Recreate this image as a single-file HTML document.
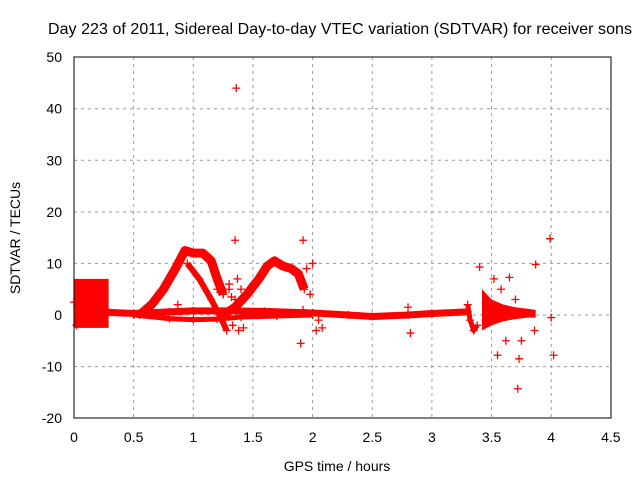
<!DOCTYPE html>
<html><head><meta charset="utf-8"><style>
body{margin:0;background:#fff}
svg{display:block;font-family:"Liberation Sans",sans-serif}
</style></head><body>
<svg id="chart" width="640" height="480">
<text x="340" y="34" text-anchor="middle" font-size="16" textLength="584">Day 223 of 2011, Sidereal Day-to-day VTEC variation (SDTVAR) for receiver sons</text>
<text x="337" y="471" text-anchor="middle" font-size="14">GPS time / hours</text>
<text x="20" y="238" text-anchor="middle" font-size="14" transform="rotate(-90 20 238)">SDTVAR / TECUs</text>
<g id="grid"></g><g id="marks"></g><g id="axes"></g>
</svg>
<script>
const xTicks=[0,0.5,1,1.5,2,2.5,3,3.5,4,4.5];
const xTickLabels=["0","0.5","1","1.5","2","2.5","3","3.5","4","4.5"];
const yTicks=[-20,-10,0,10,20,30,40,50];
const yTickLabels=["-20","-10","0","10","20","30","40","50"];
// dense block near start
const blockX=[0,0.29];
const blockY=[-2.5,7];
// baseline band
const baseX=[0.29,0.5,0.8,1.0,1.3,1.6,2.0,2.3,2.5,2.8,3.0,3.3];
const baseY=[0.5,0.3,0.6,0.8,0.8,0.7,0.4,0.0,-0.3,0.0,0.3,0.6];
const lowX=[0.5,0.8,1.0,1.2,1.4,1.7,2.0];
const lowY=[0.0,-0.7,-0.9,-0.8,-0.4,-0.2,0.0];
// first arc
const arc1X=[0.55,0.65,0.75,0.85,0.93,1.0,1.08,1.15,1.2,1.25];
const arc1Y=[0,2,5,9,12.5,12,12,10.5,7,4];
const arc1DownX=[0.95,1.05,1.15,1.22,1.28];
const arc1DownY=[10,7,3,0,-3];
// second arc
const arc2X=[1.25,1.35,1.45,1.55,1.62,1.68,1.75,1.82,1.88,1.93];
const arc2Y=[0,1.5,4,7,9.5,10.5,9.5,9,8,5];
// late cluster
const spikeX=[3.3,3.32,3.35,3.38];
const spikeY=[2,-1,-3,-2];
const fanX=[3.42,3.5,3.6,3.7,3.8,3.87];
const fanTop=[5,3,2,1.5,1.2,1];
const fanBot=[-3,-2,-1.2,-0.8,-0.5,-0.5];
// scattered points
const scatX=[1.36,1.35,1.92,1.37,1.3,1.4,1.45,1.5,1.28,1.33,1.38,1.42,1.9,1.95,2.0,1.98,2.05,1.92,2.03,2.08,1.2,1.25,1.32,0.87,1.3,1.35,2.8,2.82,3.99,3.87,3.4,3.52,3.58,3.65,3.7,3.72,3.62,3.55,3.75,4.0,4.02,3.73,3.86,3.45,0.0,0.02];
const scatY=[44,14.5,14.5,7,6,5,4,6,0,-2,-3,-2.5,-5.5,9,10,4,-1,1,-3,-2.5,5,4,3.5,2,5,3,1.5,-3.5,14.8,9.8,9.3,7,5,7.3,3,-14.3,-5,-7.8,-5,-0.5,-7.8,-8.5,-3,-1,2.5,-2];
const X=h=>74+h*119.3, Y=v=>315-v*5.157;
const NS="http://www.w3.org/2000/svg";
function mk(t,a,p){const e=document.createElementNS(NS,t);for(const k in a)e.setAttribute(k,a[k]);p.appendChild(e);return e;}
const grid=document.getElementById('grid'),marks=document.getElementById('marks'),axes=document.getElementById('axes');
xTicks.forEach((t,i)=>{
 if(i>0&&i<xTicks.length-1){const l=mk('line',{x1:X(t),x2:X(t),y1:57,y2:418,stroke:'#999','stroke-dasharray':'3,4'},grid);
 }
 const tx=mk('text',{x:X(t),y:442,'text-anchor':'middle','font-size':14},axes);tx.textContent=xTickLabels[i];
 
});
yTicks.forEach((t,i)=>{
 if(i>0&&i<yTicks.length-1){const l=mk('line',{x1:74,x2:611,y1:Y(t),y2:Y(t),stroke:'#999','stroke-dasharray':'3,4'},grid);
 }
 const tx=mk('text',{x:62,y:Y(t)+5,'text-anchor':'end','font-size':14},axes);tx.textContent=yTickLabels[i];
 
});
const box=mk('rect',{x:74,y:57,width:537,height:361,fill:'none',stroke:'#000'},axes);

const red='#ff0000';
const blk=mk('rect',{x:X(blockX[0]),y:Y(blockY[1]),width:X(blockX[1])-X(blockX[0]),height:Y(blockY[0])-Y(blockY[1]),fill:red},marks);

function band(xs,ys,w,name){
 const pts=xs.map((x,i)=>X(x)+','+Y(ys[i])).join(' ');
 const p=mk('polyline',{points:pts,fill:'none',stroke:red,'stroke-width':w,'stroke-linejoin':'round'},marks);
 
 xs.forEach((x,i)=>plus(x,ys[i]));
}
function plus(x,y){const cx=X(x),cy=Y(y);
 const p=mk('path',{d:`M${cx-4},${cy}H${cx+4}M${cx},${cy-4}V${cy+4}`,stroke:red,'stroke-width':1.3},marks);
 }
band(baseX,baseY,7,'baseline-band');
band(lowX,lowY,5,'lower-branch');
band(arc1X,arc1Y,9,'first-arc');
band(arc1DownX,arc1DownY,6,'first-arc-descent');
band(arc2X,arc2Y,9,'second-arc');
band(spikeX,spikeY,5,'spike-cluster');
const fpts=fanX.map((x,i)=>X(x)+','+Y(fanTop[i])).concat(fanX.slice().reverse().map((x,i)=>X(x)+','+Y(fanBot[fanX.length-1-i]))).join(' ');
const fan=mk('polygon',{points:fpts,fill:red},marks);

scatX.forEach((x,i)=>plus(x,scatY[i]));
</script>
</body></html>
